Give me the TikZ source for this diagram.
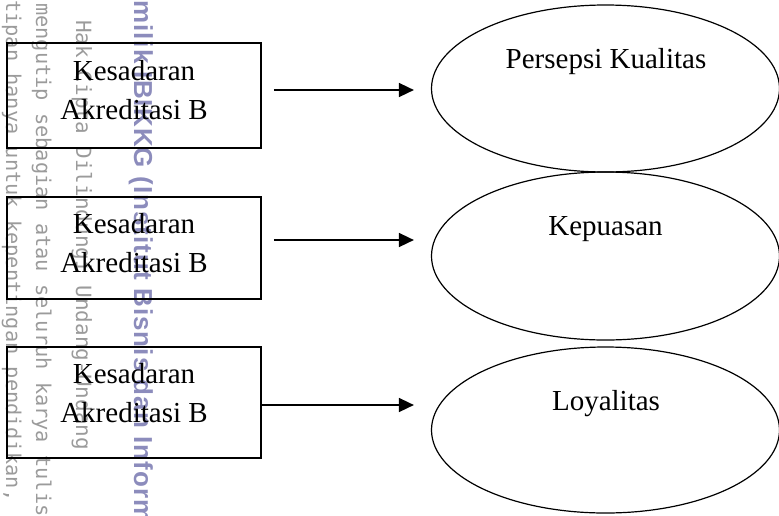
\documentclass[tikz,border=0pt]{standalone}
\usepackage{fontspec}
\setmainfont{Liberation Serif}
\newfontfamily\wmmono{DejaVu Sans Mono}
\newfontfamily\wmbold[LetterSpace=4]{Liberation Sans}
\usetikzlibrary{shapes.geometric,arrows.meta}
\definecolor{wmgray}{RGB}{155,155,155}
\definecolor{wmblue}{RGB}{140,140,188}
\begin{document}
\begin{tikzpicture}[x=1pt,y=-1pt,
  box/.style={draw, line width=1.6pt, minimum width=254pt, inner sep=0pt},
  oval/.style={draw, ellipse, line width=1.2pt, minimum width=348pt, minimum height=167pt, inner sep=0pt},
  txt/.style={font=\fontsize{29}{39}\selectfont, align=center, inner sep=0pt},
  arr/.style={line width=1.6pt, -{Triangle[length=15pt,width=14pt]}},
  wm/.style={rotate=-90, anchor=base west, inner sep=0pt, text=wmgray, font=\wmmono\fontsize{20.3}{20}\selectfont},
  wmb/.style={rotate=-90, anchor=base west, inner sep=0pt, text=wmblue, font=\wmbold\bfseries\fontsize{26}{26}\selectfont}]
\useasboundingbox (0,0) rectangle (779,515);
\begin{scope}
\clip (0,0) rectangle (779,515);
\node[wm] (w1) at (6,0) {tipan hanya untuk kepentingan pendidikan,};
\node[wm] (w2) at (36,3) {mengutip sebagian atau seluruh karya tulis};
\node[wm, font=\wmmono\fontsize{21}{21}\selectfont] (w3) at (76,20) {Hak Cipta Dilindungi Undang-Undang};
\node[wmb] (w4) at (134,0) {milik IBIKKG (Institut Bisnis dan Inform};
\end{scope}
% boxes
\node[box, minimum height=105pt] (b1) at (134,95.5) {};
\node[box, minimum height=102pt] (b2) at (134,248) {};
\node[box, minimum height=111pt] (b3) at (134,402.5) {};
\node[txt] (t1) at (134,89.6) {Kesadaran\\Akreditasi B};
\node[txt] (t2) at (134,242.6) {Kesadaran\\Akreditasi B};
\node[txt] (t3) at (134,392.6) {Kesadaran\\Akreditasi B};
% ellipses
\node[oval] (e1) at (605.5,88.5) {};
\node[oval, minimum height=168pt] (e2) at (605.5,256) {};
\node[oval, minimum height=166pt] (e3) at (605.5,430) {};
\node[txt, anchor=base] (l1) at (606,68) {Persepsi Kualitas};
\node[txt, anchor=base] (l2) at (605.5,235) {Kepuasan};
\node[txt, anchor=base] (l3) at (606,410) {Loyalitas};
% arrows
\coordinate (a1) at (0,90);
\coordinate (a2) at (0,240);
\coordinate (a3) at (0,405);
\draw[arr, shorten <=12pt, shorten >=17pt] (b1.east |- a1) -- (e1.west |- a1);
\draw[arr, shorten <=12pt, shorten >=17pt] (b2.east |- a2) -- (e2.west |- a2);
\draw[arr, shorten >=17pt] (b3.east |- a3) -- (e3.west |- a3);
\end{tikzpicture}
\end{document}
